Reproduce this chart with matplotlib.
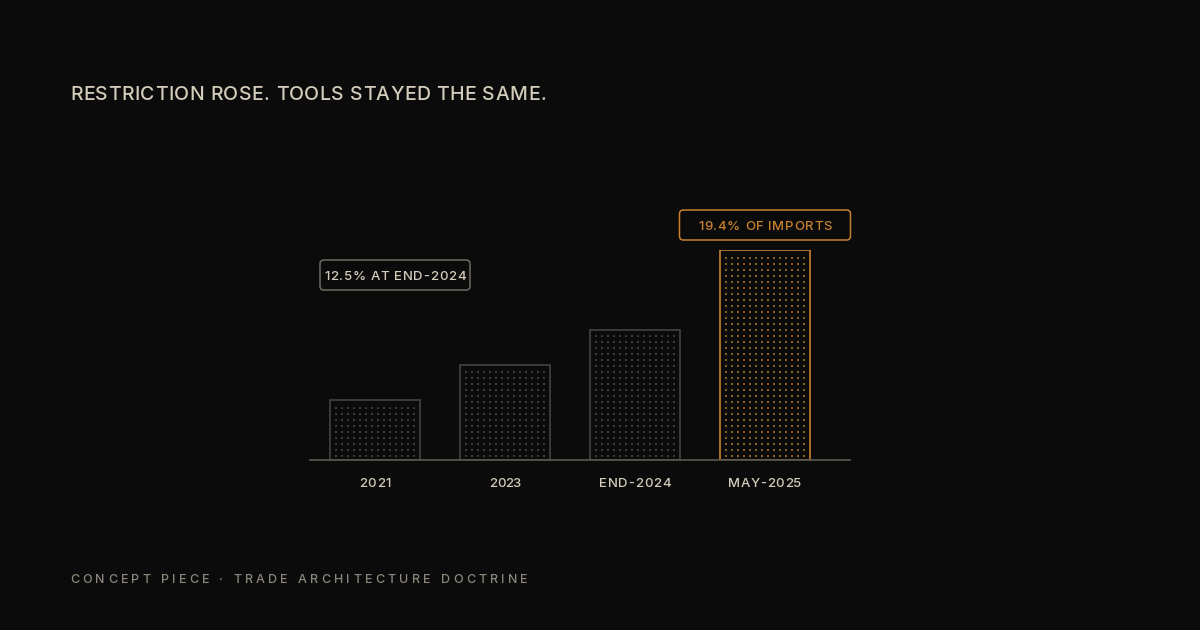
import matplotlib
matplotlib.use("Agg")
import matplotlib.pyplot as plt
import numpy as np
from matplotlib.font_manager import FontProperties, findfont
from matplotlib.ft2font import FT2Font
from matplotlib.transforms import IdentityTransform
from matplotlib.patches import FancyBboxPatch

W, H, DPI = 1200, 630, 100
BG = "#0b0b0b"

# data
categories = ["2021", "2023", "END-2024", "MAY-2025"]
values = [5.5, 8.8, 12.0, 19.4]
highlight = [False, False, False, True]

title = "RESTRICTION ROSE. TOOLS STAYED THE SAME."
footer = "CONCEPT PIECE · TRADE ARCHITECTURE DOCTRINE"
note_left = "12.5% AT END-2024"
note_peak = "19.4% OF IMPORTS"

ORANGE = "#c8812f"
GREY_EDGE = "#44433f"
GREY_DOT = "#3b3a37"
ORANGE_DOT = "#8f5d27"
BEIGE = "#d4cdbb"
MUTED = "#8b877c"

fig = plt.figure(figsize=(W / DPI, H / DPI), dpi=DPI, facecolor=BG)
ax = fig.add_axes([310 / W, 170 / H, 540 / W, 210 / H])
ax.set_facecolor("none")
ax.set_xlim(-0.5, 3.654)
ax.set_ylim(0, 19.4)
ax.axis("off")

x = np.arange(len(categories))
width = 90 / 130
edges = [ORANGE if h else GREY_EDGE for h in highlight]
ax.bar(x, values, width=width, facecolor="none", edgecolor=edges, linewidth=1.2, zorder=3)
ax.axhline(0, color="#5b5850", lw=1.2, clip_on=False, zorder=4)

# dotted fill inside each bar, 6px grid
px_x = (ax.get_xlim()[1] - ax.get_xlim()[0]) / 540
px_y = (ax.get_ylim()[1] - ax.get_ylim()[0]) / 210
for xi, v, h in zip(x, values, highlight):
    xs = np.arange(xi - width / 2 + 6 * px_x, xi + width / 2 - 3 * px_x, 6 * px_x)
    ys = np.arange(4 * px_y, v - 3 * px_y, 6 * px_y)
    X, Y = np.meshgrid(xs, ys)
    ax.scatter(X.ravel(), Y.ravel(), s=2.1, marker="s", linewidths=0,
               color=ORANGE_DOT if h else GREY_DOT, zorder=2)


def tracked(s, x, y, size, color, target, ha="left", weight="medium"):
    # letter-spaced text, placed in pixel coords (y measured from the top)
    fp = FontProperties(family="Inter", size=size, weight=weight)
    font = FT2Font(findfont(fp))
    font.set_size(size, DPI)
    adv = [font.load_char(ord(c)).linearHoriAdvance / 65536 for c in s]
    track = (target - sum(adv)) / (len(s) - 1)
    x0 = x - target / 2 if ha == "center" else x
    for c, a in zip(s, adv):
        fig.text(x0, H - y, c, transform=IdentityTransform(), fontproperties=fp,
                 color=color, ha="left", va="baseline")
        x0 += a + track


tracked(title, 70, 100, 14, BEIGE, 476)
tracked(footer, 70, 583, 9, MUTED, 458)

label_w = [32, 32, 72, 73]
for xi, lab, lw in zip(x, categories, label_w):
    cx = ax.transData.transform((xi, 0))[0]
    tracked(lab, cx, 487, 9.5, BEIGE, lw, ha="center")

# callout over the peak bar
top = ax.transData.transform((x[-1], values[-1]))
bw, bh = 171, 30
y_bot = H - top[1] - 10
fig.patches.append(FancyBboxPatch((top[0] - bw / 2, H - y_bot), bw, bh,
                                  boxstyle="round,pad=0,rounding_size=4",
                                  transform=IdentityTransform(), fill=False,
                                  edgecolor=ORANGE, linewidth=1.1))
tracked(note_peak, top[0], y_bot - 10, 9.5, ORANGE, 134, ha="center")

# side note
fig.patches.append(FancyBboxPatch((320, H - 290), 150, 30,
                                  boxstyle="round,pad=0,rounding_size=4",
                                  transform=IdentityTransform(), fill=False,
                                  edgecolor="#6f6b62", linewidth=1.1))
tracked(note_left, 395, 280, 9.5, BEIGE, 141, ha="center")

fig.savefig("out.png", dpi=DPI, facecolor=BG)
